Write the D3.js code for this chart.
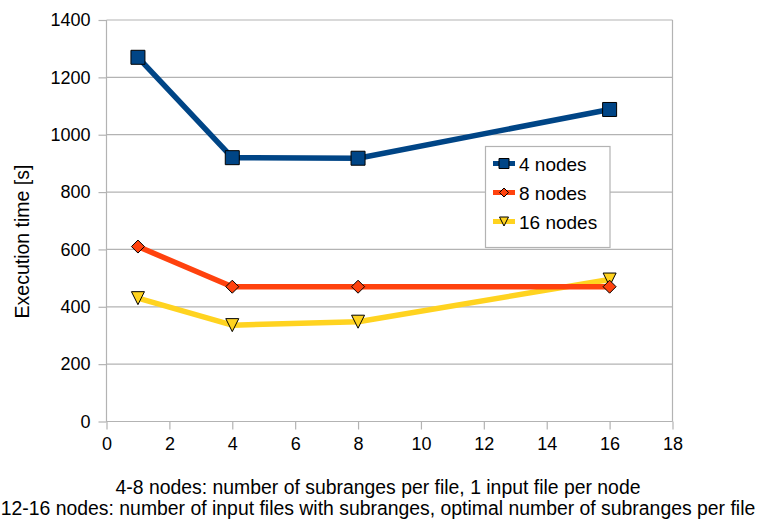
<!DOCTYPE html>
<html><head><meta charset="utf-8">
<script src="https://cdn.jsdelivr.net/npm/d3@7"></script>
<style>body{margin:0;background:#fff;} text{font-family:"Liberation Sans",Arial,sans-serif;fill:#000;}</style>
</head><body>
<svg id="c" width="758" height="523"></svg>
<script>
const xValues = [1, 4, 8, 16];
const seriesNames = ["4 nodes", "8 nodes", "16 nodes"];
const nodes4 = [1270, 920, 918, 1088];
const nodes8 = [610, 470, 470, 470];
const nodes16 = [430, 336, 348, 495];
const xTicks = [0, 2, 4, 6, 8, 10, 12, 14, 16, 18];
const yTicks = [0, 200, 400, 600, 800, 1000, 1200, 1400];
const xTitle = ["4-8 nodes: number of subranges per file, 1 input file per node",
                "12-16 nodes: number of input files with subranges, optimal number of subranges per file"];
const yTitle = "Execution time [s]";
const colors = ["#004586", "#ff420e", "#ffd320"];
const shapes = ["square", "diamond", "triangle"];

const svg = d3.select("#c");
const L = 106.5, R = 672.5, T = 20, B = 421.5;
const x = d3.scaleLinear().domain([0, 18]).range([L, R]);
const y = d3.scaleLinear().domain([0, 1400]).range([B, T]);
const grid = "#b3b3b3";

svg.append("g").selectAll("line").data(yTicks).join("line")
  .attr("x1", L).attr("x2", R).attr("y1", d => y(d)).attr("y2", d => y(d))
  .attr("stroke", grid).attr("stroke-width", 1.2);
svg.append("line").attr("x1", R).attr("x2", R).attr("y1", T).attr("y2", B).attr("stroke", grid).attr("stroke-width", 1.2);

const yAxis = svg.append("g").attr("transform", `translate(${L},0)`)
  .call(d3.axisLeft(y).tickValues(yTicks).tickFormat(d3.format("d")).tickSize(8).tickPadding(8));
const xAxis = svg.append("g").attr("transform", `translate(0,${B})`)
  .call(d3.axisBottom(x).tickValues(xTicks).tickFormat(d3.format("d")).tickSize(8).tickPadding(8));
[yAxis, xAxis].forEach(a => {
  a.attr("font-size", null).attr("font-family", null);
  a.selectAll("path,line").attr("stroke", grid).attr("stroke-width", 1.2);
  a.selectAll("text").style("font-size", "18px").style("font-family", "Liberation Sans, Arial, sans-serif").attr("fill", "#000");
});
yAxis.select("path").attr("d", `M0,${T}V${B}`);
xAxis.select("path").attr("d", `M${L},0H${R}`);

svg.append("text").attr("transform", `translate(28.5,241.5) rotate(-90)`)
  .attr("text-anchor", "middle").style("font-size", "19.5px").text(yTitle);
svg.selectAll(".xt").data(xTitle).join("text").attr("class", "xt")
  .attr("x", 378).attr("y", (d, i) => 494 + i * 21).attr("text-anchor", "middle")
  .style("font-size", "19.4px").text(d => d);

function marker(g, shape, cx, cy, s, color) {
  let p;
  if (shape === "square") p = `M${cx - s / 2},${cy - s / 2}h${s}v${s}h${-s}Z`;
  else if (shape === "diamond") { const h = s * 0.5; p = `M${cx},${cy - h}L${cx + h},${cy}L${cx},${cy + h}L${cx - h},${cy}Z`; }
  else { const h = s / 2; p = `M${cx - h},${cy - h}L${cx + h},${cy - h}L${cx},${cy + h}Z`; }
  g.append("path").attr("d", p).attr("fill", color).attr("stroke", "#000").attr("stroke-width", 1);
}

const data = [nodes4, nodes8, nodes16];
const line = d3.line().x((d, i) => x(xValues[i])).y(d => y(d));
const order = [0, 2, 1];
order.forEach(k => {
  svg.append("path").datum(data[k]).attr("d", line).attr("fill", "none")
    .attr("stroke", colors[k]).attr("stroke-width", 5.5).attr("stroke-linejoin", "round");
});
order.forEach(k => {
  const g = svg.append("g");
  const size = k === 0 ? 14 : 13;
  data[k].forEach((v, i) => marker(g, shapes[k], x(xValues[i]), y(v), size, colors[k]));
});

const lg = svg.append("g");
lg.append("rect").attr("x", 485.5).attr("y", 146.5).attr("width", 124.5).attr("height", 101)
  .attr("fill", "#fff").attr("stroke", grid).attr("stroke-width", 1.2);
seriesNames.forEach((n, i) => {
  const cy = 163.5 + i * 29;
  lg.append("line").attr("x1", 493).attr("x2", 515).attr("y1", cy).attr("y2", cy)
    .attr("stroke", colors[i]).attr("stroke-width", 5);
  marker(lg, shapes[i], 504, cy, i === 0 ? 10 : 9, colors[i]);
  lg.append("text").attr("x", 519).attr("y", cy + 7).style("font-size", "19px").text(n);
});
</script>
</body></html>
